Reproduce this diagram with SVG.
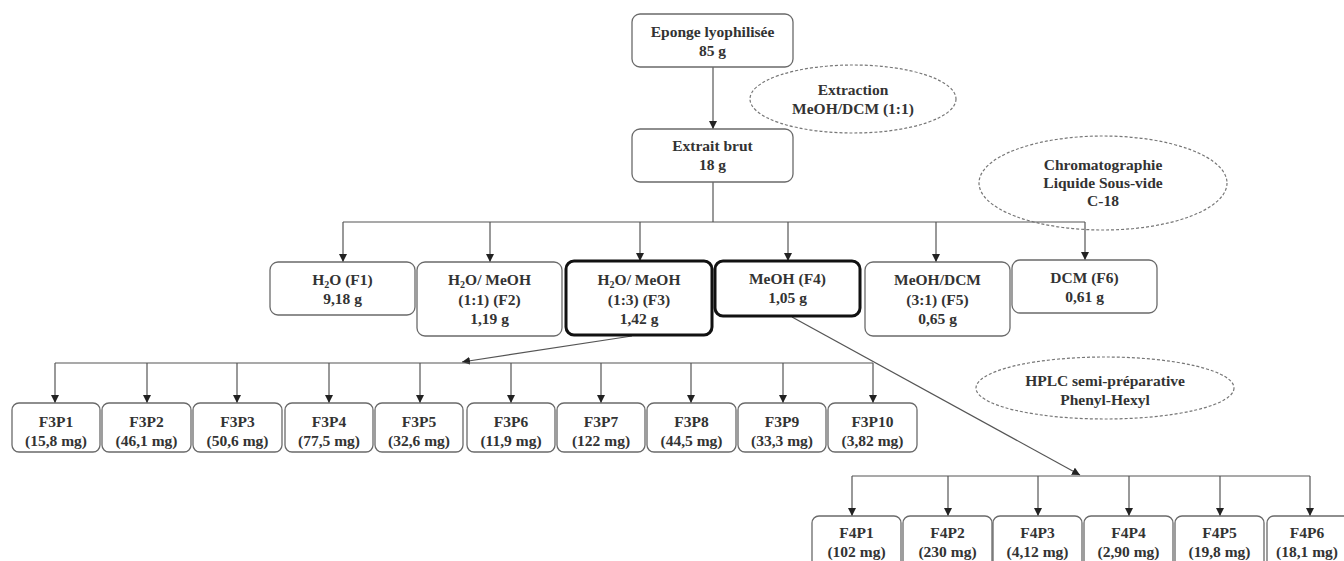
<svg xmlns="http://www.w3.org/2000/svg" width="1344" height="561" viewBox="0 0 1344 561">
<defs>
<style>
.box{fill:#fff;stroke:#6a6a6a;stroke-width:1.3}
.thick{fill:#fff;stroke:#111;stroke-width:3}
.t{font-family:"Liberation Serif",serif;font-weight:bold;font-size:15.5px;fill:#333;text-anchor:middle}
.sub{font-size:10px}
.c{fill:none;stroke:#555;stroke-width:1.2}
.ell{fill:none;stroke:#777;stroke-width:1.2;stroke-dasharray:3 2}
</style>
<marker id="ah" markerUnits="userSpaceOnUse" markerWidth="8" markerHeight="8" refX="8" refY="4" orient="auto">
<path d="M0,0 L8,4 L0,8 Z" fill="#222"/>
</marker>
</defs>
<rect width="1344" height="561" fill="#fff"/>

<g id="connectors">
<line class="c" x1="713" y1="67" x2="713" y2="129" marker-end="url(#ah)"/>
<polyline class="c" points="713,182 713,222"/>
<line class="c" x1="343" y1="222" x2="1085" y2="222"/>
<line class="c" x1="343" y1="222" x2="343" y2="262" marker-end="url(#ah)"/>
<line class="c" x1="490" y1="222" x2="490" y2="262" marker-end="url(#ah)"/>
<line class="c" x1="640" y1="222" x2="640" y2="261" marker-end="url(#ah)"/>
<line class="c" x1="788" y1="222" x2="788" y2="261" marker-end="url(#ah)"/>
<line class="c" x1="936" y1="222" x2="936" y2="262" marker-end="url(#ah)"/>
<line class="c" x1="1085" y1="222" x2="1085" y2="260" marker-end="url(#ah)"/>

<line class="c" x1="632" y1="336" x2="462" y2="362" marker-end="url(#ah)"/>
<line class="c" x1="55" y1="363" x2="873" y2="363"/>
<line class="c" x1="55" y1="363" x2="55" y2="403" marker-end="url(#ah)"/>
<line class="c" x1="147" y1="363" x2="147" y2="403" marker-end="url(#ah)"/>
<line class="c" x1="237" y1="363" x2="237" y2="403" marker-end="url(#ah)"/>
<line class="c" x1="329" y1="363" x2="329" y2="403" marker-end="url(#ah)"/>
<line class="c" x1="420" y1="363" x2="420" y2="403" marker-end="url(#ah)"/>
<line class="c" x1="511" y1="363" x2="511" y2="403" marker-end="url(#ah)"/>
<line class="c" x1="601" y1="363" x2="601" y2="403" marker-end="url(#ah)"/>
<line class="c" x1="691" y1="363" x2="691" y2="403" marker-end="url(#ah)"/>
<line class="c" x1="783" y1="363" x2="783" y2="403" marker-end="url(#ah)"/>
<line class="c" x1="873" y1="363" x2="873" y2="403" marker-end="url(#ah)"/>

<line class="c" x1="792" y1="317" x2="1080" y2="475" marker-end="url(#ah)"/>
<line class="c" x1="852" y1="476" x2="1310" y2="476"/>
<line class="c" x1="852" y1="476" x2="852" y2="516" marker-end="url(#ah)"/>
<line class="c" x1="948" y1="476" x2="948" y2="516" marker-end="url(#ah)"/>
<line class="c" x1="1038" y1="476" x2="1038" y2="516" marker-end="url(#ah)"/>
<line class="c" x1="1129" y1="476" x2="1129" y2="516" marker-end="url(#ah)"/>
<line class="c" x1="1220" y1="476" x2="1220" y2="516" marker-end="url(#ah)"/>
<line class="c" x1="1310" y1="476" x2="1310" y2="516" marker-end="url(#ah)"/>
</g>

<g id="ell-extraction">
<ellipse class="ell" cx="853" cy="99" rx="103" ry="34"/>
<text class="t" x="853" y="95">Extraction</text>
<text class="t" x="853" y="114">MeOH/DCM (1:1)</text>
</g>
<g id="ell-chromato">
<ellipse class="ell" cx="1103" cy="183" rx="124" ry="47"/>
<text class="t" x="1103" y="170">Chromatographie</text>
<text class="t" x="1103" y="188">Liquide Sous-vide</text>
<text class="t" x="1103" y="206">C-18</text>
</g>
<g id="ell-hplc">
<ellipse class="ell" cx="1105" cy="388" rx="129" ry="31"/>
<text class="t" x="1105" y="386">HPLC semi-préparative</text>
<text class="t" x="1105" y="405">Phenyl-Hexyl</text>
</g>

<g id="eponge">
<rect class="box" x="632" y="14" width="161" height="53" rx="8"/>
<text class="t" x="712.5" y="37">Eponge lyophilisée</text>
<text class="t" x="712.5" y="56">85 g</text>
</g>
<g id="brut">
<rect class="box" x="632" y="129" width="161" height="53" rx="8"/>
<text class="t" x="712.5" y="151">Extrait brut</text>
<text class="t" x="712.5" y="170">18 g</text>
</g>

<g id="F1">
<rect class="box" x="270" y="262" width="145" height="53" rx="8"/>
<text class="t" x="342.5" y="285">H<tspan class="sub" dy="3">2</tspan><tspan dy="-3">O (F1)</tspan></text>
<text class="t" x="342.5" y="304">9,18 g</text>
</g>
<g id="F2">
<rect class="box" x="417" y="262" width="145" height="74" rx="8"/>
<text class="t" x="489.5" y="285">H<tspan class="sub" dy="3">2</tspan><tspan dy="-3">O/ MeOH</tspan></text>
<text class="t" x="489.5" y="305">(1:1) (F2)</text>
<text class="t" x="489.5" y="324">1,19 g</text>
</g>
<g id="F3">
<rect class="thick" x="566" y="261" width="146" height="74" rx="8"/>
<text class="t" x="639" y="285">H<tspan class="sub" dy="3">2</tspan><tspan dy="-3">O/ MeOH</tspan></text>
<text class="t" x="639" y="305">(1:3) (F3)</text>
<text class="t" x="639" y="324">1,42 g</text>
</g>
<g id="F4">
<rect class="thick" x="715" y="261" width="145" height="55" rx="8"/>
<text class="t" x="787.5" y="284">MeOH (F4)</text>
<text class="t" x="787.5" y="303">1,05 g</text>
</g>
<g id="F5">
<rect class="box" x="865" y="262" width="145" height="74" rx="8"/>
<text class="t" x="937.5" y="285">MeOH/DCM</text>
<text class="t" x="937.5" y="305">(3:1) (F5)</text>
<text class="t" x="937.5" y="324">0,65 g</text>
</g>
<g id="F6">
<rect class="box" x="1012" y="260" width="145" height="53" rx="8"/>
<text class="t" x="1084.5" y="283">DCM (F6)</text>
<text class="t" x="1084.5" y="302">0,61 g</text>
</g>

<g id="F3P1"><rect class="box" x="12" y="403" width="88" height="49" rx="7"/><text class="t" x="56" y="427">F3P1</text><text class="t" x="56" y="446">(15,8 mg)</text></g>
<g id="F3P2"><rect class="box" x="102" y="403" width="89" height="49" rx="7"/><text class="t" x="146.5" y="427">F3P2</text><text class="t" x="146.5" y="446">(46,1 mg)</text></g>
<g id="F3P3"><rect class="box" x="193" y="403" width="89" height="49" rx="7"/><text class="t" x="237.5" y="427">F3P3</text><text class="t" x="237.5" y="446">(50,6 mg)</text></g>
<g id="F3P4"><rect class="box" x="285" y="403" width="88" height="49" rx="7"/><text class="t" x="329" y="427">F3P4</text><text class="t" x="329" y="446">(77,5 mg)</text></g>
<g id="F3P5"><rect class="box" x="375" y="403" width="88" height="49" rx="7"/><text class="t" x="419" y="427">F3P5</text><text class="t" x="419" y="446">(32,6 mg)</text></g>
<g id="F3P6"><rect class="box" x="467" y="403" width="88" height="49" rx="7"/><text class="t" x="511" y="427">F3P6</text><text class="t" x="511" y="446">(11,9 mg)</text></g>
<g id="F3P7"><rect class="box" x="557" y="403" width="88" height="49" rx="7"/><text class="t" x="601" y="427">F3P7</text><text class="t" x="601" y="446">(122 mg)</text></g>
<g id="F3P8"><rect class="box" x="647" y="403" width="89" height="49" rx="7"/><text class="t" x="691.5" y="427">F3P8</text><text class="t" x="691.5" y="446">(44,5 mg)</text></g>
<g id="F3P9"><rect class="box" x="738" y="403" width="88" height="49" rx="7"/><text class="t" x="782" y="427">F3P9</text><text class="t" x="782" y="446">(33,3 mg)</text></g>
<g id="F3P10"><rect class="box" x="828" y="403" width="89" height="49" rx="7"/><text class="t" x="872.5" y="427">F3P10</text><text class="t" x="872.5" y="446">(3,82 mg)</text></g>

<g id="F4P1"><rect class="box" x="812" y="516" width="89" height="52" rx="7"/><text class="t" x="856.5" y="538">F4P1</text><text class="t" x="856.5" y="557">(102 mg)</text></g>
<g id="F4P2"><rect class="box" x="903" y="516" width="89" height="52" rx="7"/><text class="t" x="947.5" y="538">F4P2</text><text class="t" x="947.5" y="557">(230 mg)</text></g>
<g id="F4P3"><rect class="box" x="993" y="516" width="89" height="52" rx="7"/><text class="t" x="1037.5" y="538">F4P3</text><text class="t" x="1037.5" y="557">(4,12 mg)</text></g>
<g id="F4P4"><rect class="box" x="1084" y="516" width="89" height="52" rx="7"/><text class="t" x="1128.5" y="538">F4P4</text><text class="t" x="1128.5" y="557">(2,90 mg)</text></g>
<g id="F4P5"><rect class="box" x="1175" y="516" width="89" height="52" rx="7"/><text class="t" x="1219.5" y="538">F4P5</text><text class="t" x="1219.5" y="557">(19,8 mg)</text></g>
<g id="F4P6"><rect class="box" x="1267" y="516" width="89" height="52" rx="7"/><text class="t" x="1307" y="538">F4P6</text><text class="t" x="1307" y="557">(18,1 mg)</text></g>
</svg>
